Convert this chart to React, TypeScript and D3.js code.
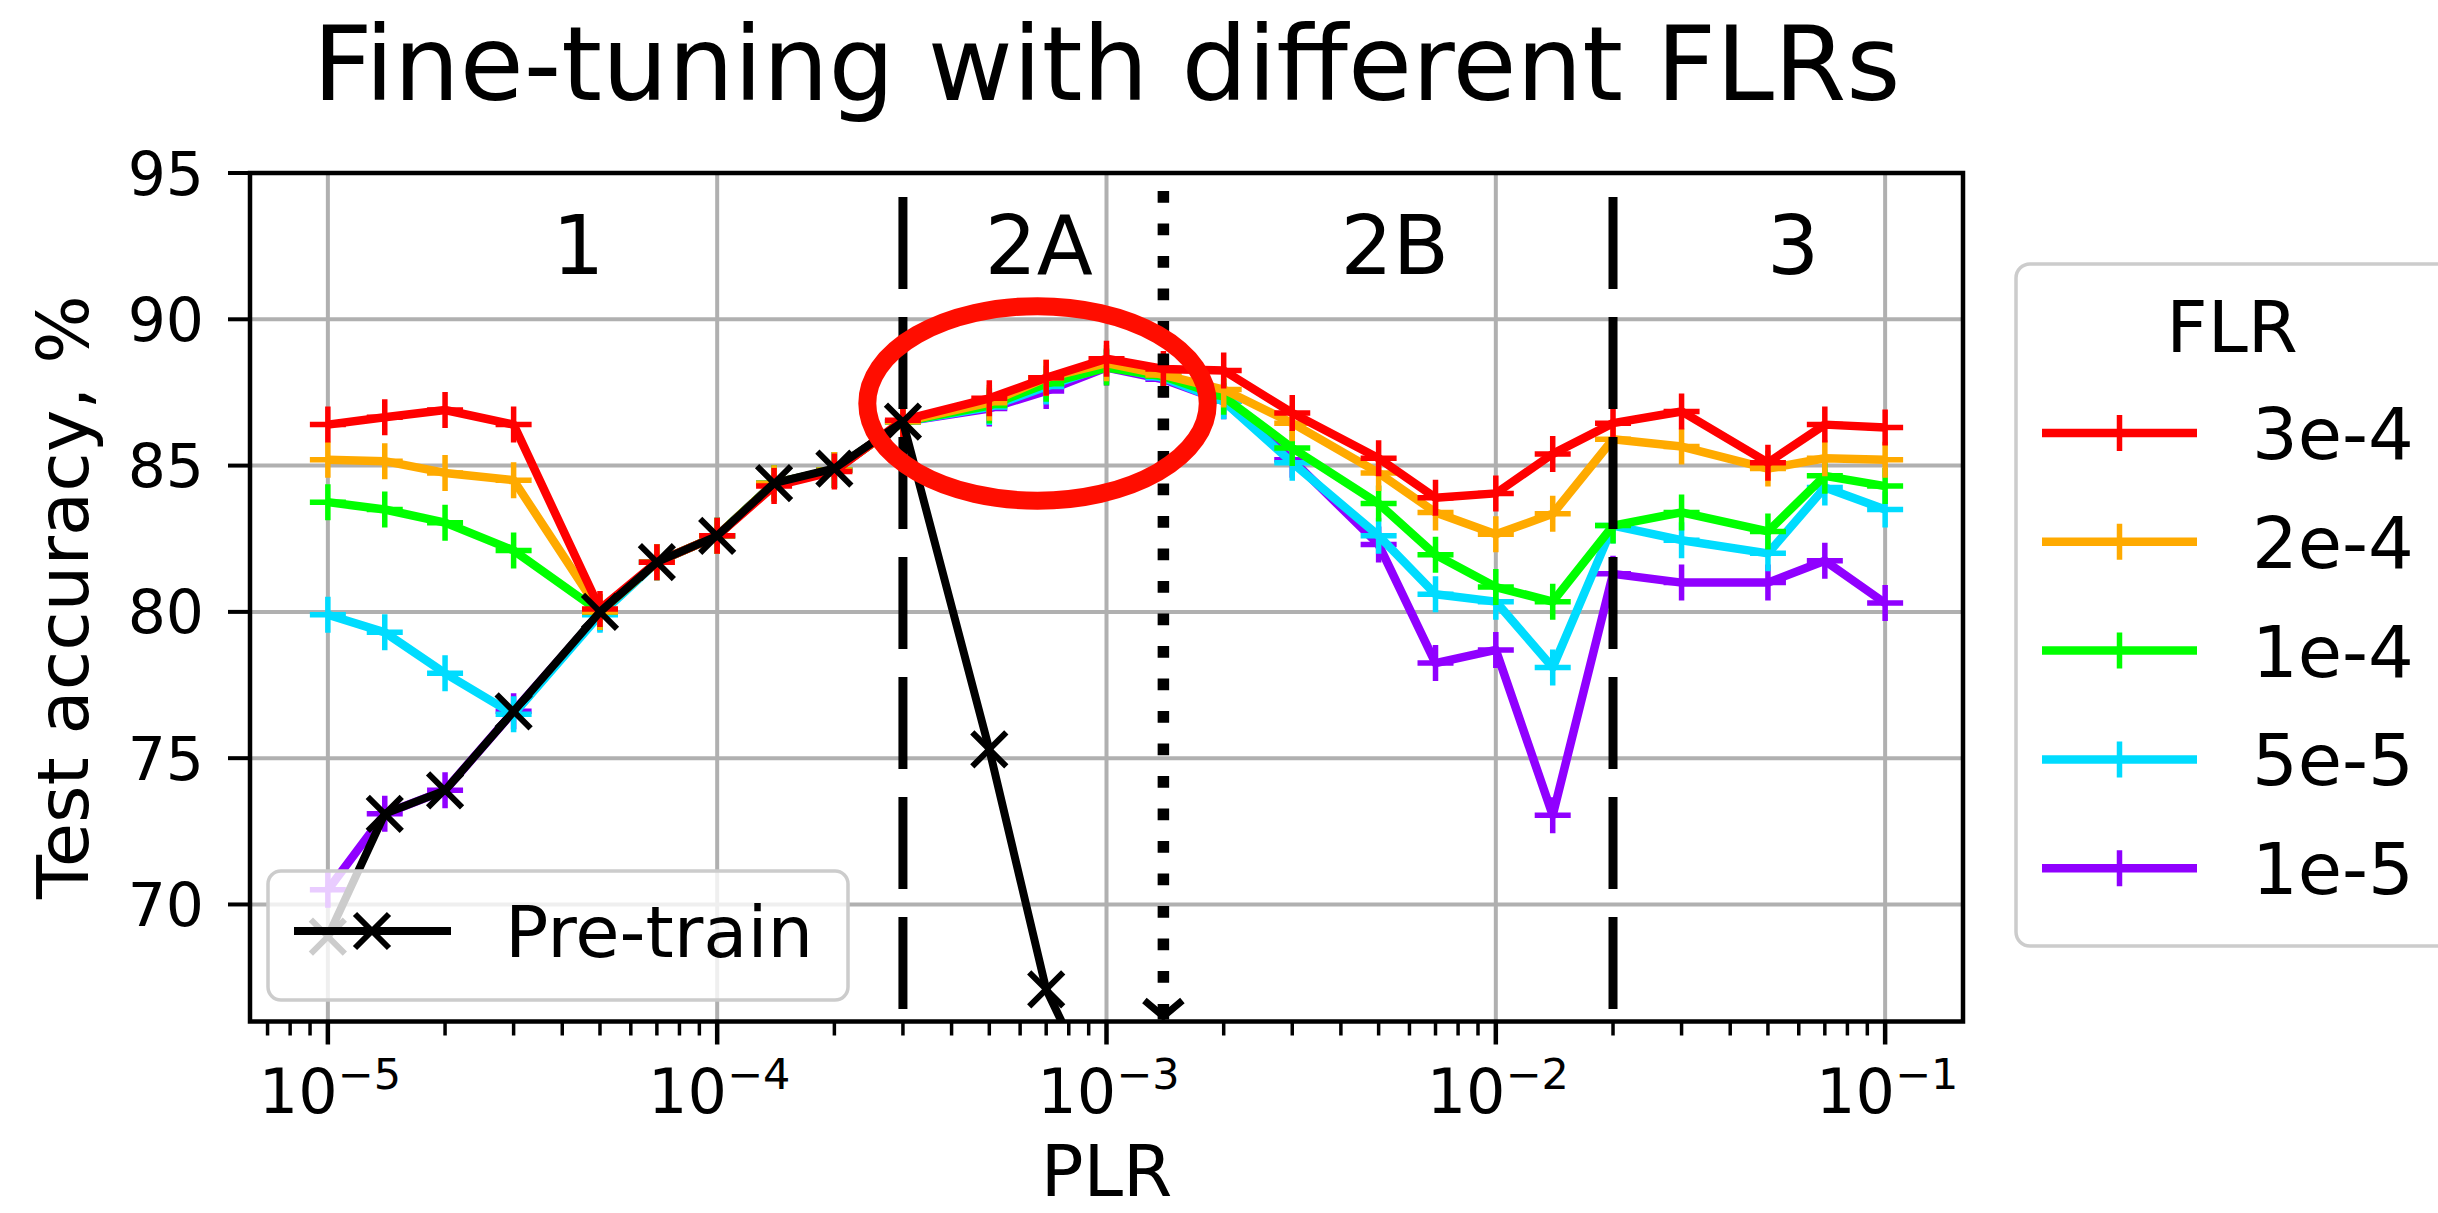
import * as d3 from "d3";
import React, { useEffect, useRef } from "react";

// PLR values (x) shared by all fine-tuning curves
const plr = [
  1e-5, 1.4e-5, 2e-5, 3e-5, 5e-5, 7e-5, 1e-4, 1.4e-4, 2e-4, 3e-4, 5e-4, 7e-4,
  1e-3, 1.4e-3, 2e-3, 3e-3, 5e-3, 7e-3, 1e-2, 1.4e-2, 2e-2, 3e-2, 5e-2, 7e-2, 1e-1,
];

const flrLabels = ["3e-4", "2e-4", "1e-4", "5e-5", "1e-5"];
const flrColors = ["#ff0000", "#ffaa00", "#00ff00", "#00dcff", "#9000ff"];

const acc3e4 = [86.4, 86.65, 86.9, 86.4, 80.1, 81.7, 82.6, 84.3, 84.8, 86.55, 87.3, 88.0, 88.65, 88.3, 88.25, 86.8, 85.25, 83.9, 84.05, 85.4, 86.45, 86.85, 85.1, 86.4, 86.3];
const acc2e4 = [85.2, 85.15, 84.75, 84.5, 80.0, 81.7, 82.6, 84.4, 84.85, 86.5, 87.15, 88.0, 88.5, 88.1, 87.6, 86.45, 84.75, 83.4, 82.65, 83.35, 85.9, 85.65, 84.9, 85.25, 85.2];
const acc1e4 = [83.75, 83.5, 83.05, 82.1, 80.0, 81.7, 82.6, 84.4, 84.85, 86.5, 87.05, 87.8, 88.35, 88.05, 87.35, 85.6, 83.7, 81.95, 80.85, 80.35, 82.95, 83.4, 82.75, 84.65, 84.3];
const acc5e5 = [79.9, 79.3, 77.9, 76.5, 79.9, 81.7, 82.6, 84.4, 84.85, 86.5, 87.0, 87.7, 88.4, 88.0, 87.2, 85.1, 82.6, 80.6, 80.35, 78.1, 82.95, 82.45, 82.0, 84.25, 83.5];
const acc1e5 = [70.5, 73.1, 73.9, 76.6, 79.95, 81.7, 82.6, 84.4, 84.85, 86.5, 86.95, 87.55, 88.35, 87.95, 87.2, 85.2, 82.3, 78.25, 78.7, 73.05, 81.3, 81.0, 81.0, 81.75, 80.3];

const pretrainPlr = plr.slice(0, 13);
const pretrainAcc = [68.9, 73.1, 73.9, 76.6, 80.0, 81.7, 82.6, 84.4, 84.9, 86.5, 75.3, 67.1, 62.8];

const yTicks = [70, 75, 80, 85, 90, 95];
const xTicks = [1e-5, 1e-4, 1e-3, 1e-2, 1e-1];
const xTickExp = ["\u22125", "\u22124", "\u22123", "\u22122", "\u22121"];

// phase annotations
const phaseLabels = ["1", "2A", "2B", "3"];
const phasePlr = [4.4e-5, 6.7e-4, 5.5e-3, 5.8e-2];
const phaseAcc = 91.55;
const phaseBounds = [3e-4, 2e-2];
const optimumPlr = 1.4e-3;

// highlighted region (red ellipse), in data units
const hiPlr = [2.43e-4, 1.82e-3];
const hiAcc = [83.8, 90.45];

const W = 2438;
const H = 1213;
const FONT = "DejaVu Sans";

const App = () => {
  const svgRef = useRef(null);

  useEffect(() => {
    const svg = d3.select(svgRef.current);
    svg.selectAll("*").remove();

    const left = 250, right = 1963, top = 173, bottom = 1021.5;

    const x = d3.scaleLog().domain([10 ** -5.2, 10 ** -0.8]).range([left, right]);
    const y = d3.scaleLinear().domain([66, 95]).range([bottom, top]);

    svg.append("rect").attr("width", W).attr("height", H).attr("fill", "#fff");

    svg.append("defs")
      .append("clipPath")
      .attr("id", "plot-clip")
      .append("rect")
      .attr("x", left)
      .attr("y", top)
      .attr("width", right - left)
      .attr("height", bottom - top);

    // Grid
    const grid = svg.append("g").attr("stroke", "#b0b0b0").attr("stroke-width", 4);
    grid.selectAll(".gx").data(xTicks).enter().append("line")
      .attr("x1", (d) => x(d)).attr("x2", (d) => x(d))
      .attr("y1", top).attr("y2", bottom);
    grid.selectAll(".gy").data(yTicks).enter().append("line")
      .attr("x1", left).attr("x2", right)
      .attr("y1", (d) => y(d)).attr("y2", (d) => y(d));

    const plot = svg.append("g").attr("clip-path", "url(#plot-clip)");

    const line = d3.line().x((d) => x(d[0])).y((d) => y(d[1]));

    const series = [acc3e4, acc2e4, acc1e4, acc5e5, acc1e5];
    const plus = "M-18,0H18M0,-18V18";
    const cross = "M-17,-17L17,17M-17,17L17,-17";

    // draw lowest FLR first so 3e-4 ends up on top
    for (let i = series.length - 1; i >= 0; i--) {
      const pts = plr.map((p, j) => [p, series[i][j]]);
      plot.append("path")
        .datum(pts)
        .attr("fill", "none")
        .attr("stroke", flrColors[i])
        .attr("stroke-width", 8.5)
        .attr("stroke-linejoin", "round")
        .attr("d", line);
      plot.append("g").selectAll("path").data(pts).enter().append("path")
        .attr("d", plus)
        .attr("transform", (d) => `translate(${x(d[0])},${y(d[1])})`)
        .attr("stroke", flrColors[i])
        .attr("stroke-width", 5.5);
    }

    // Pre-train curve
    const pre = pretrainPlr.map((p, j) => [p, pretrainAcc[j]]);
    plot.append("path")
      .datum(pre)
      .attr("fill", "none")
      .attr("stroke", "#000")
      .attr("stroke-width", 8)
      .attr("stroke-linejoin", "round")
      .attr("d", line);
    plot.append("g").selectAll("path").data(pre).enter().append("path")
      .attr("d", cross)
      .attr("transform", (d) => `translate(${x(d[0])},${y(d[1])})`)
      .attr("stroke", "#000")
      .attr("stroke-width", 6);

    // Phase boundaries
    svg.append("g").selectAll("line").data(phaseBounds).enter().append("line")
      .attr("x1", (d) => x(d)).attr("x2", (d) => x(d))
      .attr("y1", 197).attr("y2", bottom - 10)
      .attr("stroke", "#000")
      .attr("stroke-width", 9)
      .attr("stroke-dasharray", "92 28");

    // Dotted arrow at the optimum
    const ox = x(optimumPlr);
    svg.append("line")
      .attr("x1", ox).attr("x2", ox)
      .attr("y1", 191).attr("y2", 990)
      .attr("stroke", "#000")
      .attr("stroke-width", 11.5)
      .attr("stroke-dasharray", "11.7 20.8");
    svg.append("line")
      .attr("x1", ox).attr("x2", ox)
      .attr("y1", 1004).attr("y2", bottom - 2)
      .attr("stroke", "#000")
      .attr("stroke-width", 11.5);
    svg.append("path")
      .attr("d", `M${ox - 19},${bottom - 21}L${ox},${bottom - 5}L${ox + 19},${bottom - 21}`)
      .attr("fill", "none")
      .attr("stroke", "#000")
      .attr("stroke-width", 7);

    // Phase labels
    svg.append("g").selectAll("text").data(phaseLabels).enter().append("text")
      .attr("x", (d, i) => x(phasePlr[i]))
      .attr("y", y(phaseAcc))
      .attr("text-anchor", "middle")
      .attr("font-family", FONT)
      .attr("font-size", 82)
      .text((d) => d);

    // Spines
    svg.append("rect")
      .attr("x", left).attr("y", top)
      .attr("width", right - left).attr("height", bottom - top)
      .attr("fill", "none")
      .attr("stroke", "#000")
      .attr("stroke-width", 4.5);

    // Y ticks
    const yAxis = svg.append("g");
    yAxis.selectAll("line").data(yTicks).enter().append("line")
      .attr("x1", left - 22).attr("x2", left)
      .attr("y1", (d) => y(d)).attr("y2", (d) => y(d))
      .attr("stroke", "#000").attr("stroke-width", 4);
    yAxis.selectAll("text").data(yTicks).enter().append("text")
      .attr("x", left - 46)
      .attr("y", (d) => y(d) + 21.5)
      .attr("text-anchor", "end")
      .attr("font-family", FONT)
      .attr("font-size", 60)
      .text((d) => d);

    // X ticks (log)
    const minor = [];
    for (let e = -6; e <= -1; e++) {
      for (let m = 2; m <= 9; m++) {
        const v = m * 10 ** e;
        if (v > x.domain()[0] && v < x.domain()[1]) minor.push(v);
      }
    }
    const xAxis = svg.append("g");
    xAxis.selectAll(".minor").data(minor).enter().append("line")
      .attr("x1", (d) => x(d)).attr("x2", (d) => x(d))
      .attr("y1", bottom).attr("y2", bottom + 14)
      .attr("stroke", "#000").attr("stroke-width", 3.5);
    xAxis.selectAll(".major").data(xTicks).enter().append("line")
      .attr("x1", (d) => x(d)).attr("x2", (d) => x(d))
      .attr("y1", bottom).attr("y2", bottom + 23)
      .attr("stroke", "#000").attr("stroke-width", 4.5);
    const xl = xAxis.selectAll("text").data(xTicks).enter().append("text")
      .attr("x", (d) => x(d) + 2)
      .attr("y", 1113)
      .attr("text-anchor", "middle")
      .attr("font-family", FONT)
      .attr("font-size", 62);
    xl.append("tspan").text("10");
    xl.append("tspan")
      .attr("dy", -24)
      .attr("font-size", 43)
      .text((d, i) => xTickExp[i]);

    // Axis labels and title
    svg.append("text")
      .attr("x", (left + right) / 2)
      .attr("y", 1196)
      .attr("text-anchor", "middle")
      .attr("font-family", FONT)
      .attr("font-size", 71)
      .text("PLR");
    svg.append("text")
      .attr("transform", `translate(88,${(top + bottom) / 2}) rotate(-90)`)
      .attr("text-anchor", "middle")
      .attr("font-family", FONT)
      .attr("font-size", 72)
      .text("Test accuracy, %");
    svg.append("text")
      .attr("x", (left + right) / 2)
      .attr("y", 100)
      .attr("text-anchor", "middle")
      .attr("font-family", FONT)
      .attr("font-size", 104)
      .text("Fine-tuning with different FLRs");

    // Highlight ellipse
    svg.append("ellipse")
      .attr("cx", (x(hiPlr[0]) + x(hiPlr[1])) / 2)
      .attr("cy", (y(hiAcc[0]) + y(hiAcc[1])) / 2)
      .attr("rx", (x(hiPlr[1]) - x(hiPlr[0])) / 2)
      .attr("ry", (y(hiAcc[0]) - y(hiAcc[1])) / 2)
      .attr("fill", "none")
      .attr("stroke", "#ff0d00")
      .attr("stroke-width", 18);

    // Pre-train legend (lower left)
    const lg1 = svg.append("g");
    lg1.append("rect")
      .attr("x", 268).attr("y", 871).attr("width", 580).attr("height", 129)
      .attr("rx", 13)
      .attr("fill", "#fff").attr("fill-opacity", 0.8)
      .attr("stroke", "#cccccc").attr("stroke-width", 3.5);
    lg1.append("line")
      .attr("x1", 294).attr("x2", 451).attr("y1", 931).attr("y2", 931)
      .attr("stroke", "#000").attr("stroke-width", 8);
    lg1.append("path")
      .attr("d", cross)
      .attr("transform", "translate(372,931)")
      .attr("stroke", "#000").attr("stroke-width", 6);
    lg1.append("text")
      .attr("x", 505).attr("y", 957)
      .attr("font-family", FONT).attr("font-size", 72)
      .text("Pre-train");

    // FLR legend (outside right)
    const lg2 = svg.append("g");
    lg2.append("rect")
      .attr("x", 2016).attr("y", 264).attr("width", 480).attr("height", 682)
      .attr("rx", 14)
      .attr("fill", "#fff").attr("fill-opacity", 0.8)
      .attr("stroke", "#cccccc").attr("stroke-width", 3.5);
    lg2.append("text")
      .attr("x", 2232).attr("y", 352)
      .attr("text-anchor", "middle")
      .attr("font-family", FONT).attr("font-size", 72)
      .text("FLR");
    const entries = lg2.selectAll(".entry").data(flrLabels).enter().append("g")
      .attr("transform", (d, i) => `translate(0,${433 + i * 108.8})`);
    entries.append("line")
      .attr("x1", 2042).attr("x2", 2197).attr("y1", 0).attr("y2", 0)
      .attr("stroke", (d, i) => flrColors[i]).attr("stroke-width", 8.5);
    entries.append("path")
      .attr("d", plus)
      .attr("transform", "translate(2119.5,0)")
      .attr("stroke", (d, i) => flrColors[i]).attr("stroke-width", 5.5);
    entries.append("text")
      .attr("x", 2252).attr("y", 26)
      .attr("font-family", FONT).attr("font-size", 72)
      .text((d) => d);
  }, []);

  return (
    <svg
      ref={svgRef}
      width={W}
      height={H}
      style={{ position: "absolute", left: 0, top: 0, display: "block" }}
    ></svg>
  );
};

export default App;
